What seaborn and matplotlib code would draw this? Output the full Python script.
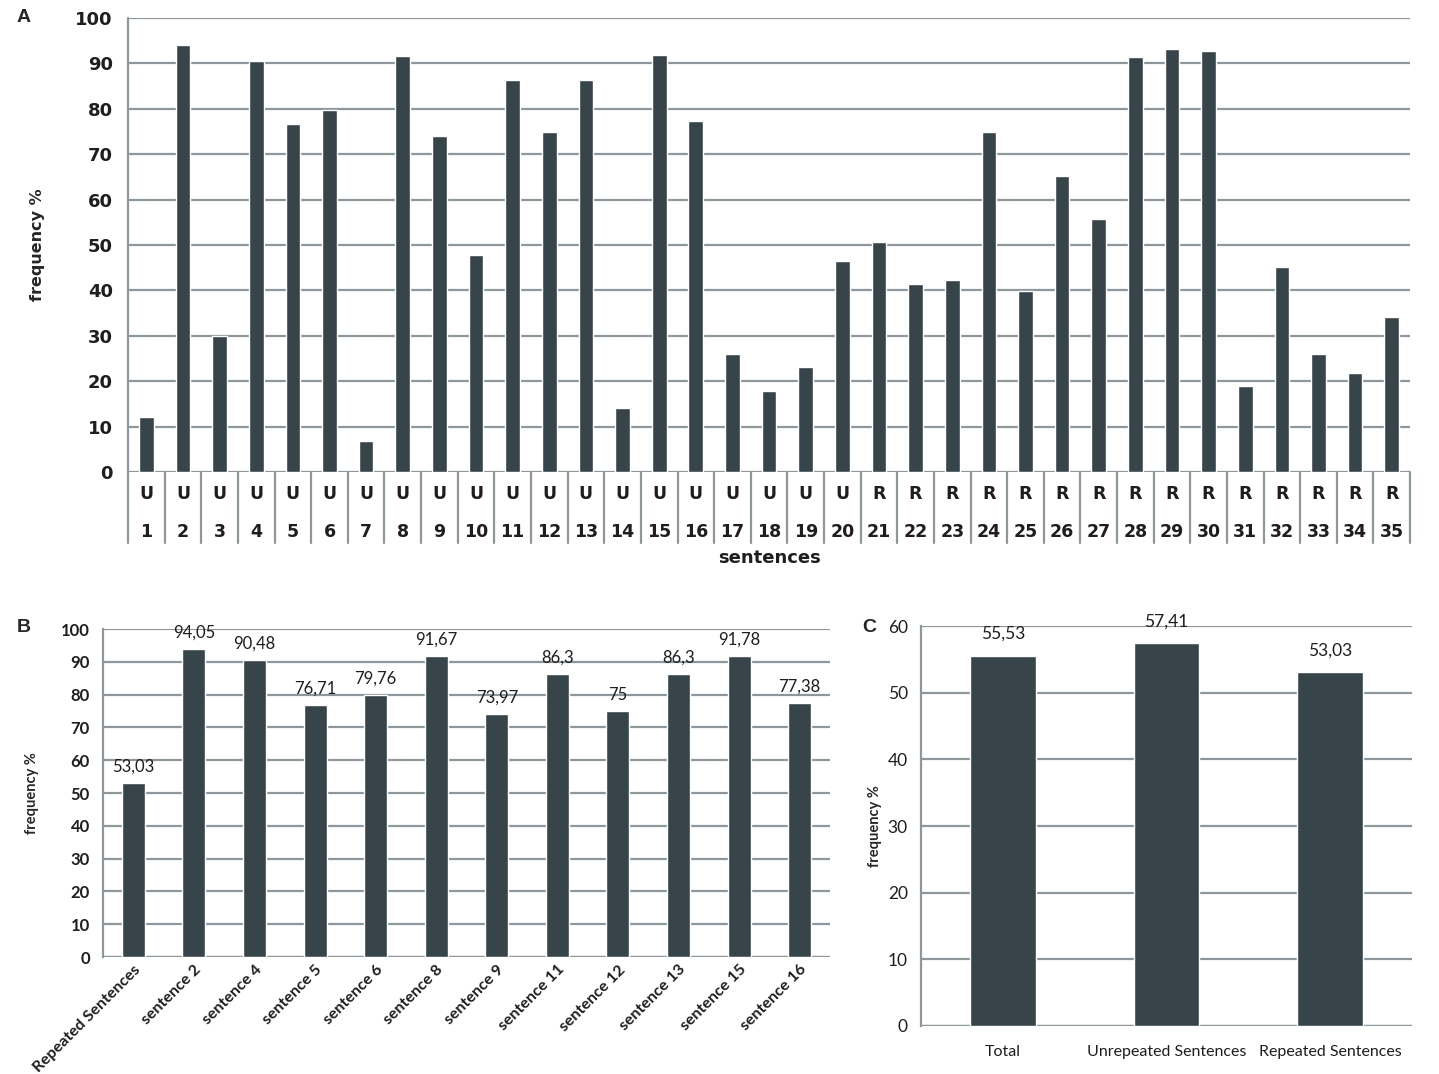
import numpy as np
import pandas as pd
import matplotlib
matplotlib.use("Agg")
import matplotlib.pyplot as plt
import matplotlib.transforms as mtransforms
import seaborn as sns

# ---- data ----
sent_ids = [str(i) for i in range(1, 36)]
sent_groups = ["U"] * 20 + ["R"] * 15
sent_freq = [12.2, 94.05, 30.0, 90.48, 76.71, 79.76, 6.9, 91.67, 73.97, 47.7,
             86.3, 75.0, 86.3, 14.1, 91.78, 77.38, 25.9, 17.8, 23.2, 46.4,
             50.7, 41.5, 42.4, 74.8, 39.8, 65.2, 55.8, 91.4, 93.1, 92.7,
             18.9, 45.2, 25.9, 21.8, 34.2]

b_labels = ["Repeated Sentences", "sentence 2", "sentence 4", "sentence 5",
            "sentence 6", "sentence 8", "sentence 9", "sentence 11",
            "sentence 12", "sentence 13", "sentence 15", "sentence 16"]
b_freq = [53.03, 94.05, 90.48, 76.71, 79.76, 91.67, 73.97, 86.3, 75, 86.3,
          91.78, 77.38]
b_text = ["53,03", "94,05", "90,48", "76,71", "79,76", "91,67", "73,97",
          "86,3", "75", "86,3", "91,78", "77,38"]

c_labels = ["Total", "Unrepeated Sentences", "Repeated Sentences"]
c_freq = [55.53, 57.41, 53.03]
c_text = ["55,53", "57,41", "53,03"]

BAR = "#37444a"
GRID = "#8e979c"
TXT = "#1e1e1e"
NARROW = ["Lato", "DejaVu Sans"]

sns.set_style("white")
plt.rcParams["font.family"] = ["DejaVu Sans"]

fig = plt.figure(figsize=(14.39, 10.74), dpi=100)


def style_axis(ax, ymax, step):
    ax.set_ylim(0, ymax)
    ax.set_yticks(np.arange(0, ymax + 1, step))
    ax.set_axisbelow(True)
    ax.yaxis.grid(True, color=GRID, lw=1.6)
    for side in ["top", "right", "bottom"]:
        ax.spines[side].set_visible(False)
    ax.spines["left"].set_color(GRID)
    ax.spines["left"].set_linewidth(1.6)
    ax.tick_params(axis="y", length=6, width=1.4, color=GRID, colors=TXT)
    ax.tick_params(axis="x", length=0)
    ax.set_xlabel("")


# ---------------- panel A ----------------
axA = fig.add_axes([0.0890, 0.5605, 0.8909, 0.4227])
dfA = pd.DataFrame({"sentence": sent_ids, "freq": sent_freq})
sns.barplot(data=dfA, x="sentence", y="freq", order=sent_ids, color=BAR,
            saturation=1, width=0.4, ax=axA)
style_axis(axA, 100, 10)
axA.set_xlim(-0.5, len(sent_ids) - 0.5)
axA.set_xticks([])
axA.spines["left"].set_visible(False)
for lab in axA.get_yticklabels():
    lab.set_fontweight("bold")
    lab.set_fontsize(13)
axA.tick_params(axis="y", pad=5)
axA.set_ylabel("frequency %", fontsize=11.5, fontweight="bold", labelpad=22)

trA = mtransforms.blended_transform_factory(axA.transData, axA.transAxes)
for i in range(len(sent_ids) + 1):
    axA.plot([i - 0.5, i - 0.5], [1 if i == 0 else 0, -0.157], transform=trA,
             color=GRID, lw=1.6, clip_on=False)
for i, (g, n) in enumerate(zip(sent_groups, sent_ids)):
    axA.text(i, -0.048, g, transform=trA, ha="center", va="center",
             fontsize=12.5, fontweight="bold", color=TXT)
    axA.text(i, -0.132, n, transform=trA, ha="center", va="center",
             fontsize=12.5, fontweight="bold", color=TXT)
axA.text(0.5, -0.19, "sentences", transform=axA.transAxes, ha="center",
         va="center", fontsize=13, fontweight="bold", color=TXT)

# ---------------- panel B ----------------
axB = fig.add_axes([0.0716, 0.1089, 0.5052, 0.3054])
dfB = pd.DataFrame({"label": b_labels, "freq": b_freq})
sns.barplot(data=dfB, x="label", y="freq", order=b_labels, color=BAR,
            saturation=1, width=0.38, ax=axB)
style_axis(axB, 100, 10)
axB.axhline(0, color=GRID, lw=1.6, zorder=0.5)
axB.set_xlim(-0.5, len(b_labels) - 0.5)
axB.set_xticks(range(len(b_labels)))
axB.set_xticklabels(b_labels, rotation=45, ha="right",
                    rotation_mode="anchor", fontsize=11.5, family=NARROW,
                    fontweight="bold", color=TXT)
for lab in axB.get_yticklabels():
    lab.set_fontsize(12)
    lab.set_family(NARROW)
    lab.set_fontweight("bold")
axB.tick_params(axis="x", pad=4)
axB.set_ylabel("frequency %", fontsize=10.5, fontweight="bold",
               family=NARROW, labelpad=16)
axB.bar_label(axB.containers[0], labels=b_text, padding=6, fontsize=12,
              family=NARROW, color=TXT)

# ---------------- panel C ----------------
axC = fig.add_axes([0.640, 0.0447, 0.3412, 0.3724])
dfC = pd.DataFrame({"label": c_labels, "freq": c_freq})
sns.barplot(data=dfC, x="label", y="freq", order=c_labels, color=BAR,
            saturation=1, width=0.4, ax=axC)
style_axis(axC, 60, 10)
axC.axhline(0, color=GRID, lw=1.6, zorder=0.5)
axC.set_xlim(-0.5, len(c_labels) - 0.5)
axC.set_xticks(range(len(c_labels)))
axC.set_xticklabels(c_labels, fontsize=11.5, family=NARROW, color=TXT)
for lab in axC.get_yticklabels():
    lab.set_fontsize(12.5)
    lab.set_family(NARROW)
axC.tick_params(axis="x", pad=14)
axC.set_ylabel("frequency %", fontsize=10.5, fontweight="bold",
               family=NARROW, labelpad=4)
axC.bar_label(axC.containers[0], labels=c_text, padding=10, fontsize=12.5,
              family=NARROW, color=TXT)

# panel letters
fig.text(17 / 1439, 1 - 18 / 1074, "A", fontsize=14, fontweight="bold",
         family="Liberation Sans", va="center")
fig.text(17 / 1439, 1 - 628 / 1074, "B", fontsize=14, fontweight="bold",
         family="Liberation Sans", va="center")
fig.text(862 / 1439, 1 - 628 / 1074, "C", fontsize=14, fontweight="bold",
         family="Liberation Sans", va="center")

fig.savefig("out.png", dpi=100, facecolor="white")
